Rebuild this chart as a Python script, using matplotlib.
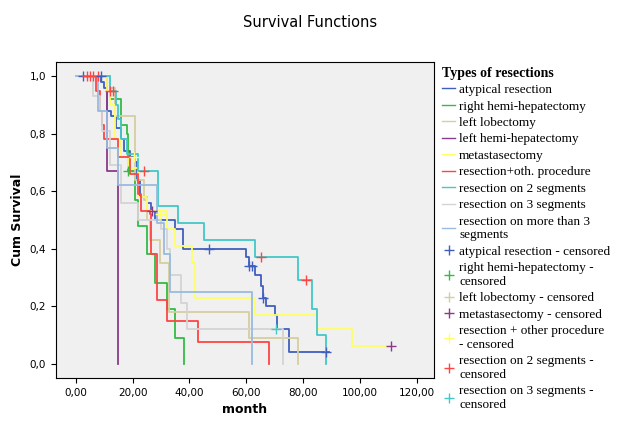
import matplotlib.pyplot as plt
from matplotlib.lines import Line2D

# step curves: (times, survival), drawn as steps-post
atyp_t = [0, 9, 10, 11, 12.5, 14, 16, 17, 19, 21, 21.5, 22.5, 25, 26.6, 28, 35, 37.7, 60, 61, 63, 65, 66, 67, 70, 70.7, 75, 89]
atyp_s = [1.0, 0.98, 0.96, 0.88, 0.86, 0.82, 0.78, 0.74, 0.72, 0.70, 0.64, 0.58, 0.56, 0.53, 0.50, 0.47, 0.40, 0.37, 0.34, 0.31, 0.27, 0.23, 0.20, 0.17, 0.12, 0.04, 0.04]
rhh_t = [0, 11, 12, 16, 18, 18.3, 21, 22, 25, 28, 32, 35, 38]
rhh_s = [1.0, 1.0, 0.92, 0.83, 0.80, 0.67, 0.57, 0.48, 0.38, 0.28, 0.19, 0.09, 0.0]
llob_t = [0, 12, 13.7, 21, 24, 25, 26, 29.5, 32.8, 61, 78]
llob_s = [1.0, 0.96, 0.86, 0.64, 0.57, 0.50, 0.43, 0.35, 0.18, 0.09, 0.0]
lhh_t = [0, 11, 15, 15.01]
lhh_s = [1.0, 0.67, 0.62, 0.0]
meta_t = [0, 11, 12, 13.7, 16, 18.5, 22, 25, 32, 35, 41, 42, 63, 85, 97, 111]
meta_s = [1.0, 0.95, 0.90, 0.78, 0.72, 0.68, 0.58, 0.53, 0.47, 0.41, 0.35, 0.23, 0.17, 0.12, 0.06, 0.06]
roth_t = [0, 7, 8.4, 9.4, 10, 15, 19, 22, 23, 26, 26.6, 28.7, 32, 43, 68]
roth_s = [1.0, 0.95, 0.88, 0.83, 0.78, 0.72, 0.66, 0.59, 0.53, 0.52, 0.38, 0.22, 0.15, 0.075, 0.0]
seg2_t = [0, 12, 14, 15, 16, 18, 22, 29, 36, 45, 63, 78, 83, 85, 88]
seg2_s = [1.0, 0.95, 0.90, 0.85, 0.78, 0.73, 0.67, 0.55, 0.49, 0.43, 0.37, 0.29, 0.19, 0.10, 0.0]
seg3_t = [0, 6, 8.4, 9.2, 12, 16, 22, 30, 32, 33, 37, 39, 73]
seg3_s = [1.0, 0.93, 0.88, 0.81, 0.69, 0.56, 0.50, 0.47, 0.40, 0.31, 0.21, 0.12, 0.0]
seg3p_t = [0, 7.8, 11, 14.9, 28.5, 31, 33, 62]
seg3p_s = [1.0, 0.88, 0.75, 0.62, 0.49, 0.38, 0.25, 0.0]

# censored marks (time, survival, colour key)
cens_t = [2.6, 4, 5, 6, 8, 9, 12, 13, 18.3, 24, 27, 47, 61, 62, 65, 66, 81, 70.5, 88, 110.8, 20.5, 29.5]
cens_s = [1.0, 1.0, 1.0, 1.0, 1.0, 1.0, 0.95, 0.95, 0.67, 0.67, 0.53, 0.40, 0.34, 0.34, 0.37, 0.23, 0.29, 0.12, 0.04, 0.06, 0.72, 0.52]
cens_c = ['b', 'r', 'r', 'r', 'r', 'b', 'r', 'r', 'g', 'r', 'p', 'b', 'b', 'b', 'r', 'b', 'r', 't', 'b', 'p', 'y', 'y']

colors = {'b': '#3f5fbf', 'g': '#33bb44', 'k': '#d6cea0', 'p': '#8a3a8a', 'y': '#ffff66',
          'r': '#ff4444', 't': '#44c8c8', 'l': '#d4d4d4', 'lb': '#99bbe0'}

series = [
    (atyp_t, atyp_s, 'b', 'atypical resection'),
    (rhh_t, rhh_s, 'g', 'right hemi-hepatectomy'),
    (llob_t, llob_s, 'k', 'left lobectomy'),
    (lhh_t, lhh_s, 'p', 'left hemi-hepatectomy'),
    (meta_t, meta_s, 'y', 'metastasectomy'),
    (roth_t, roth_s, 'r', 'resection+oth. procedure'),
    (seg2_t, seg2_s, 't', 'resection on 2 segments'),
    (seg3_t, seg3_s, 'l', 'resection on 3 segments'),
    (seg3p_t, seg3p_s, 'lb', 'resection on more than 3\nsegments'),
]
cens_labels = [('b', 'atypical resection - censored'),
               ('g', 'right hemi-hepatectomy -\ncensored'),
               ('k', 'left lobectomy - censored'),
               ('p', 'metastasectomy - censored'),
               ('y', 'resection + other procedure\n- censored'),
               ('r', 'resection on 2 segments -\ncensored'),
               ('t', 'resection on 3 segments -\ncensored')]

fig = plt.figure(figsize=(6.2, 4.21), dpi=100)
ax = fig.add_axes([0.09, 0.102, 0.61, 0.751])
ax.set_facecolor('#f0f0f0')

handles = []
for t, s, c, lab in series:
    ax.step(t, s, where='post', color=colors[c], linewidth=1.3)
    handles.append(Line2D([], [], color=colors[c], lw=1, label=lab))
for t, s, c in zip(cens_t, cens_s, cens_c):
    ax.plot(t, s, marker='+', color=colors[c], markersize=7, mew=1)
for c, lab in cens_labels:
    handles.append(Line2D([], [], color=colors[c], lw=0, marker='+', markersize=7, label=lab))

ax.set_xlim(-7, 126)
ax.set_ylim(-0.05, 1.05)
ax.set_xticks(range(0, 121, 20))
ax.set_xticklabels([f"{v},00" for v in range(0, 121, 20)], fontsize=7.5)
ax.set_yticks([0, 0.2, 0.4, 0.6, 0.8, 1.0])
ax.set_yticklabels(['0,0', '0,2', '0,4', '0,6', '0,8', '1,0'], fontsize=7.5)
ax.set_xlabel('month', fontsize=9, fontweight='bold')
ax.set_ylabel('Cum Survival', fontsize=9, fontweight='bold')
fig.suptitle('Survival Functions', y=0.965, fontsize=10.5)

leg = ax.legend(handles=handles, loc='upper left', bbox_to_anchor=(1.0, 1.01), frameon=False,
                handlelength=1.0, handletextpad=0.3, labelspacing=0.32, borderaxespad=0.2,
                title='Types of resections',
                prop={'family': 'Liberation Serif', 'size': 9.5})
leg.get_title().set_fontfamily('Liberation Serif')
leg.get_title().set_fontweight('bold')
leg.get_title().set_fontsize(10)
leg._legend_box.align = 'left'

fig.savefig('out.png')
